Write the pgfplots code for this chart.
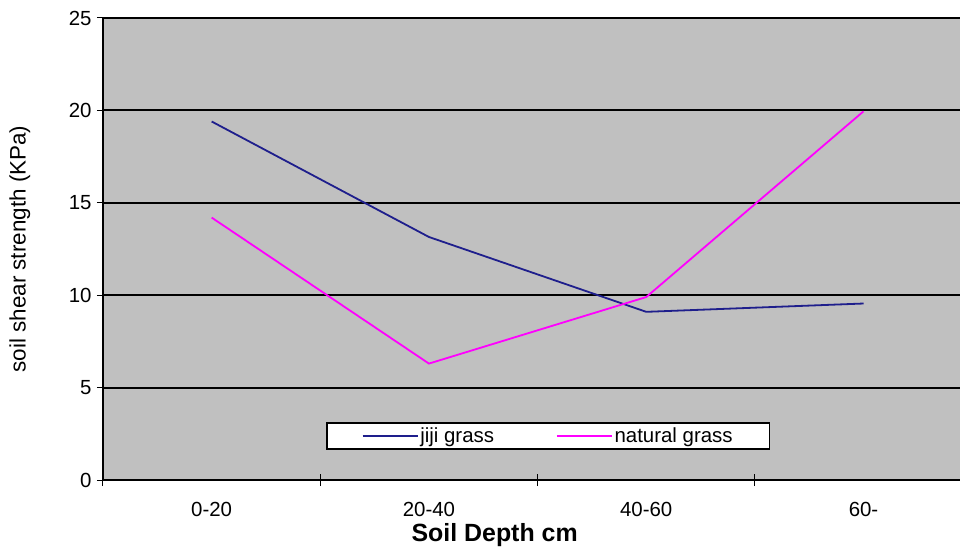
\documentclass[border=0pt]{standalone}
\usepackage{pgfplots}
\pgfplotsset{compat=1.18}
\usepackage{fontspec}
\setmainfont{Liberation Sans}
\definecolor{jiji}{RGB}{30,30,140}
\definecolor{natural}{RGB}{255,0,255}
\definecolor{bggray}{RGB}{192,192,192}
\begin{document}
\begin{tikzpicture}
\useasboundingbox (-103bp,-74bp) rectangle (857bp,480bp);
\begin{axis}[
  at={(0,0)}, anchor=south west,
  scale only axis, width=857bp, height=462bp,
  xmin=-0.5, xmax=3.444, ymin=0, ymax=25,
  axis x line*=bottom, axis y line*=left,
  axis line style={black, line width=1.5bp, -},
  axis background/.style={fill=bggray},
  xtick={0,1,2,3}, xticklabels={0-20,20-40,40-60,60-},
  major x tick style={draw=none},
  minor xtick={-0.5,0.5,1.5,2.5,3.5},
  minor tick length=12bp,
  tick align=center,
  ytick={0,5,10,15,20,25},
  major y tick style={black, line width=1bp},
  ytick align=outside, major tick length=6bp,
  minor tick style={black, line width=1bp},
  ymajorgrids, grid style={black, line width=1.8bp},
  tick label style={font=\fontsize{20.5}{24}\selectfont},
  /pgf/number format/assume math mode=true,
  xticklabel style={yshift=-16bp},
  yticklabel style={xshift=-2bp},
  xlabel={\textbf{Soil Depth cm}},
  xlabel style={at={(axis description cs:0.457,-0.119)}, anchor=center, font=\fontsize{25}{28}\selectfont},
  ylabel={soil shear strength (KPa)},
  ylabel style={at={(axis description cs:-0.097,0.5)}, anchor=center, rotate=0, font=\fontsize{22.5}{26}\selectfont},
  legend columns=2,
  legend style={at={(axis description cs:0.5195,0.095)}, anchor=center, draw=black, line width=1.5bp, fill=white,
    font=\fontsize{20.5}{24}\selectfont, inner xsep=35bp, inner ysep=3bp,
    /tikz/every even column/.append style={column sep=60bp}},
  legend image code/.code={\draw[#1, line width=1.5bp] (0bp,0bp) -- (55bp,0bp);},
]
\addplot[jiji, line width=1.8bp] coordinates {(0,19.4) (1,13.15) (2,9.1) (3,9.55)};
\addlegendentry{jiji grass}
\addplot[natural, line width=1.8bp] coordinates {(0,14.2) (1,6.3) (2,9.9) (3,19.95)};
\addlegendentry{natural grass}
\end{axis}
\end{tikzpicture}
\end{document}
